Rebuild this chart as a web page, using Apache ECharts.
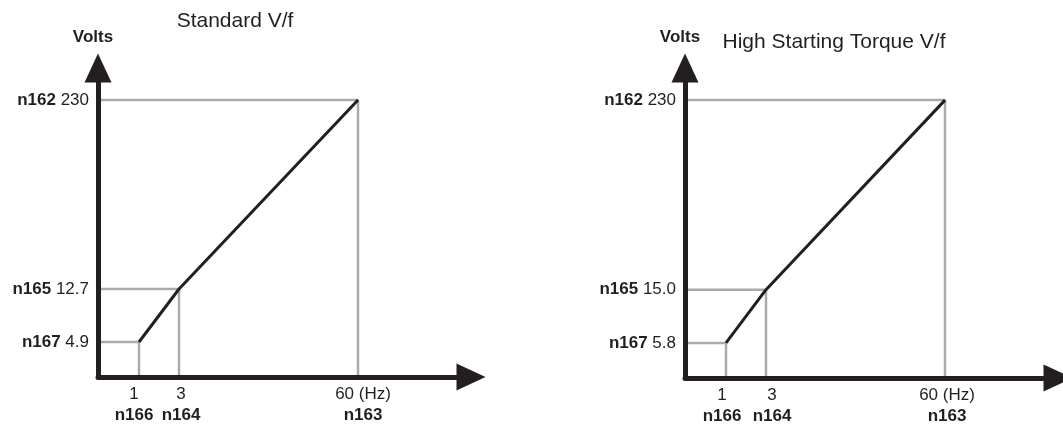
<!DOCTYPE html>
<html><head><meta charset="utf-8">
<script src="https://cdn.jsdelivr.net/npm/echarts@6/dist/echarts.min.js"></script>
<style>html,body{margin:0;padding:0;background:#fff}#c{width:1063px;height:427px}</style>
</head><body><div id="c"></div>
<script>
// ---- data ----
const freqHz = [1, 3, 60];
const freqParams = ['n166', 'n164', 'n163'];
const freqText = ['1', '3', '60 (Hz)'];
const voltParams = ['n167', 'n165', 'n162'];
const stdVolts = [4.9, 12.7, 230];
const hstVolts = [5.8, 15.0, 230];
const stdVoltText = ['4.9', '12.7', '230'];
const hstVoltText = ['5.8', '15.0', '230'];
const titles = ['Standard V/f', 'High Starting Torque V/f'];

// ---- schematic (not-to-scale) layout ----
const layout = {
  xSlot: [41, 81, 260],
  ySlot: [35, 88, 277],
  xMax: 373,
  yMax: 309,
  grids: [
    {left: 98, top: 68, width: 373, height: 309},
    {left: 685, top: 68, width: 373, height: 310}
  ],
  titlePos: [{x: 235, y: 11}, {x: 834, y: 32}],
  xShift: [[-5, 2, 5], [-4, 6, 2]],
  labelGroups: [[0, 2], [1]]   // labels split over overlaid axes so none collide
};

const AXIS = '#231f20', GUIDE = '#aaaaaa', CURVE = '#231f20';
const FONT = 'Liberation Sans, Arial, Helvetica, sans-serif';
const LBL = 17;

function xPos(f) { return layout.xSlot[freqHz.indexOf(f)]; }
function yPos(arr, v) { return layout.ySlot[arr.indexOf(v)]; }

const charts = [
  {volts: stdVolts, voltText: stdVoltText},
  {volts: hstVolts, voltText: hstVoltText}
];

const xAxes = [];
layout.labelGroups.forEach((grp, g) => {
  charts.forEach((c, k) => {
    const rich = {};
    freqHz.forEach((f, i) => {
      const s = layout.xShift[k][i];
      const pad = s >= 0 ? [0, 0, 0, 2 * s] : [0, -2 * s, 0, 0];
      rich['a' + i] = {fontFamily: FONT, fontSize: LBL, color: '#231f20', lineHeight: 21, padding: pad};
      rich['b' + i] = {fontFamily: FONT, fontSize: LBL, fontWeight: 'bold', color: '#231f20', lineHeight: 21, padding: pad};
    });
    xAxes.push({
      gridIndex: k, type: 'value', min: 0, max: layout.xMax, z: 5,
      position: 'bottom', offset: 0,
      splitLine: {show: false},
      axisTick: {show: false},
      axisLine: {show: g === 0, onZero: false, symbol: ['none', 'triangle'], symbolSize: [27, 29],
        lineStyle: {color: AXIS, width: 5}},
      axisLabel: {
        customValues: grp.map(i => xPos(freqHz[i])), margin: 7, hideOverlap: false,
        showMinLabel: true, showMaxLabel: true,
        formatter: v => {
          const i = layout.xSlot.indexOf(v);
          return i < 0 ? '' : '{a' + i + '|' + freqText[i] + '}\n{b' + i + '|' + freqParams[i] + '}';
        },
        rich: rich
      }
    });
  });
});

const option = {
  backgroundColor: '#fff',
  animation: false,
  title: titles.map((t, k) => ({
    text: t, left: layout.titlePos[k].x, top: layout.titlePos[k].y, textAlign: 'center', padding: 0,
    textStyle: {fontFamily: FONT, fontSize: 21, fontWeight: 'normal', color: '#231f20'}
  })),
  grid: layout.grids.map(g => Object.assign({containLabel: false}, g)),
  xAxis: xAxes,
  yAxis: charts.map((c, k) => ({
    gridIndex: k, type: 'value', min: 0, max: layout.yMax, z: 5,
    position: 'left',
    name: 'Volts', nameLocation: 'end', nameGap: 31,
    nameTextStyle: {fontFamily: FONT, fontSize: LBL, fontWeight: 'bold', color: '#231f20',
      align: 'center', verticalAlign: 'middle', padding: [0, 10, 0, 0]},
    splitLine: {show: false},
    axisTick: {show: false},
    axisLine: {show: true, onZero: false, symbol: ['none', 'triangle'], symbolSize: [27, 29],
      lineStyle: {color: AXIS, width: 5}},
    axisLabel: {
      customValues: c.volts.map(v => yPos(c.volts, v)), margin: 9, hideOverlap: false,
      fontFamily: FONT, fontSize: LBL, color: '#231f20',
      formatter: v => {
        const i = layout.ySlot.indexOf(v);
        return i < 0 ? '' : '{b|' + voltParams[i] + '} ' + c.voltText[i];
      },
      rich: {b: {fontFamily: FONT, fontSize: LBL, fontWeight: 'bold', color: '#231f20'}}
    }
  })),
  series: []
};

charts.forEach((c, k) => {
  freqHz.forEach((f, i) => {
    const x = xPos(f), y = yPos(c.volts, c.volts[i]);
    option.series.push({
      type: 'line', xAxisIndex: k, yAxisIndex: k, symbol: 'none', silent: true, z: 2,
      lineStyle: {color: GUIDE, width: 2.5},
      data: [[0, y], [x, y], [x, 0]]
    });
  });
  option.series.push({
    type: 'line', xAxisIndex: k, yAxisIndex: k, symbol: 'none', silent: true, z: 3,
    lineStyle: {color: CURVE, width: 3},
    data: freqHz.map((f, i) => [xPos(f), yPos(c.volts, c.volts[i])])
  });
});

const chart = echarts.init(document.getElementById('c'), null, {renderer: 'canvas'});
chart.setOption(option);
</script></body></html>
